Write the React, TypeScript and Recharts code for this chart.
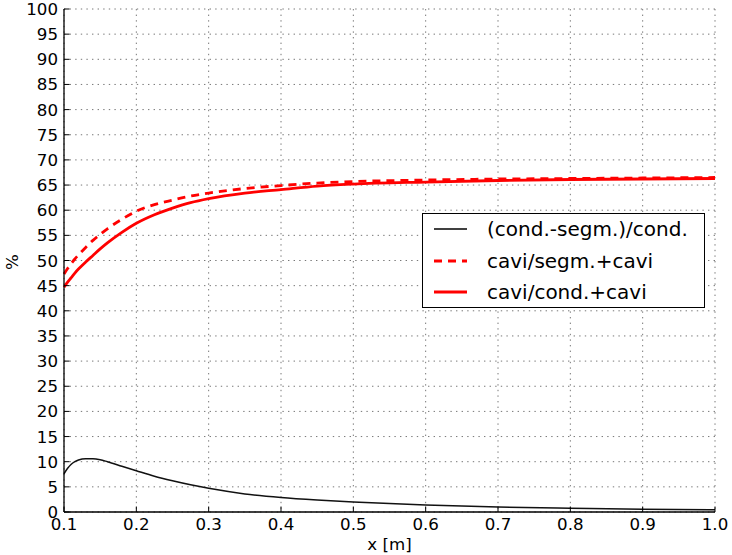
import React from 'react';
import { LineChart, Line, XAxis, YAxis, CartesianGrid, Legend } from 'recharts';

const xValues = [0.1, 0.105, 0.11, 0.115, 0.12, 0.13, 0.14, 0.15, 0.16, 0.18, 0.2, 0.225, 0.25, 0.275, 0.3, 0.35, 0.4, 0.45, 0.5, 0.6, 0.7, 0.8, 0.9, 1.0];
const condSegm = [7.6, 8.7, 9.5, 10.0, 10.35, 10.6, 10.6, 10.4, 10.0, 9.1, 8.2, 7.1, 6.2, 5.4, 4.7, 3.6, 2.9, 2.4, 2.0, 1.4, 1.0, 0.75, 0.55, 0.45];
const caviSegm = [47.3, 48.4, 49.4, 50.3, 51.1, 52.6, 54.0, 55.2, 56.3, 58.2, 59.8, 61.1, 62.0, 62.8, 63.4, 64.3, 64.9, 65.4, 65.7, 66.0, 66.2, 66.3, 66.4, 66.5];
const caviCond = [44.7, 45.7, 46.6, 47.5, 48.3, 49.7, 51.0, 52.3, 53.5, 55.6, 57.4, 59.1, 60.4, 61.5, 62.3, 63.4, 64.1, 64.8, 65.2, 65.6, 65.9, 66.1, 66.2, 66.3];
const xTicks = [0.1, 0.2, 0.3, 0.4, 0.5, 0.6, 0.7, 0.8, 0.9, 1.0];
const yTicks = [0, 5, 10, 15, 20, 25, 30, 35, 40, 45, 50, 55, 60, 65, 70, 75, 80, 85, 90, 95, 100];
const seriesNames = ['(cond.-segm.)/cond.', 'cavi/segm.+cavi', 'cavi/cond.+cavi'];

const data = xValues.map((x, i) => ({ x, a: condSegm[i], b: caviSegm[i], c: caviCond[i] }));

const FONT = 'DejaVu Sans';
const TICK_LEN = 5.5;

const LeftTick = (props: any) => {
  const { x, y, payload } = props;
  return (
    <g>
      <line x1={x} y1={y} x2={x + TICK_LEN} y2={y} stroke="#000" strokeWidth={1} />
      <text x={x - 6} y={y + 6} textAnchor="end" fontFamily={FONT} fontSize={16.67} fill="#000">{payload.value}</text>
    </g>
  );
};
const RightTick = (props: any) => {
  const { x, y } = props;
  return <line x1={x} y1={y} x2={x - TICK_LEN} y2={y} stroke="#000" strokeWidth={1} />;
};
const BottomTick = (props: any) => {
  const { x, y, payload } = props;
  return (
    <g>
      <line x1={x} y1={y} x2={x} y2={y - TICK_LEN} stroke="#000" strokeWidth={1} />
      <text x={x} y={y + 18} textAnchor="middle" fontFamily={FONT} fontSize={16.67} fill="#000">{Number(payload.value).toFixed(1)}</text>
    </g>
  );
};
const TopTick = (props: any) => {
  const { x, y } = props;
  return <line x1={x} y1={y} x2={x} y2={y + TICK_LEN} stroke="#000" strokeWidth={1} />;
};

const LegendBox = () => {
  const rows = [
    { name: seriesNames[0], color: '#000', w: 1.4, dash: undefined as string | undefined },
    { name: seriesNames[1], color: '#ff0000', w: 2.8, dash: '8 6' },
    { name: seriesNames[2], color: '#ff0000', w: 2.8, dash: undefined },
  ];
  const ys = [16, 48, 79];
  return (
    <svg width={284} height={96} style={{ display: 'block' }}>
      <rect x={0.5} y={0.5} width={282} height={94} fill="#fff" stroke="#000" strokeWidth={1} />
      {rows.map((r, i) => (
        <g key={r.name}>
          <line x1={12} x2={45} y1={ys[i]} y2={ys[i]} stroke={r.color} strokeWidth={r.w} strokeDasharray={r.dash} />
          <text x={65} y={ys[i] + 7} fontFamily={FONT} fontSize={20} fill="#000">{r.name}</text>
        </g>
      ))}
    </svg>
  );
};

export default function App() {
  return (
    <div style={{ position: 'absolute', left: 0, top: 0, width: 732, height: 555, background: '#fff' }}>
      <LineChart width={732} height={555} data={data} margin={{ top: 9, right: 17, bottom: 0, left: 0 }}>
        <CartesianGrid stroke="#777" strokeDasharray="1.4 4.2" strokeWidth={1} />
        <XAxis dataKey="x" type="number" domain={[0.1, 1.0]} ticks={xTicks} interval={0} height={43}
          axisLine={{ stroke: '#000', strokeWidth: 1.3 }} tickLine={false} tickSize={0} tickMargin={0} tick={<BottomTick />}
          label={{ value: 'x [m]', position: 'insideBottom', offset: 5, fontFamily: FONT, fontSize: 16.67, fill: '#000' }} />
        <XAxis xAxisId="top" orientation="top" dataKey="x" type="number" domain={[0.1, 1.0]} ticks={xTicks} interval={0} height={0}
          axisLine={{ stroke: '#000', strokeWidth: 1.3 }} tickLine={false} tickSize={0} tickMargin={0} tick={<TopTick />} />
        <YAxis type="number" domain={[0, 100]} ticks={yTicks} interval={0} width={64}
          axisLine={{ stroke: '#000', strokeWidth: 1.3 }} tickLine={false} tickSize={0} tickMargin={0} tick={<LeftTick />} />
        <YAxis yAxisId="right" orientation="right" type="number" domain={[0, 100]} ticks={yTicks} interval={0} width={0}
          axisLine={{ stroke: '#000', strokeWidth: 1.3 }} tickLine={false} tickSize={0} tickMargin={0} tick={<RightTick />} />
        <Line type="monotone" dataKey="a" name={seriesNames[0]} stroke="#111" strokeWidth={1.5} dot={false} isAnimationActive={false} />
        <Line type="monotone" dataKey="b" name={seriesNames[1]} stroke="#ff0000" strokeWidth={2.8} strokeDasharray="8 6" dot={false} isAnimationActive={false} />
        <Line type="monotone" dataKey="c" name={seriesNames[2]} stroke="#ff0000" strokeWidth={2.8} dot={false} isAnimationActive={false} />
        <Legend layout="vertical" align="center" verticalAlign="middle" content={<LegendBox />}
          wrapperStyle={{ position: 'absolute', left: 422, top: 213, width: 284, height: 96 }} />
        <text x={12.5} y={262} transform="rotate(-90 12.5 262)" textAnchor="middle" dominantBaseline="central" fontFamily={FONT} fontSize={16.67} fill="#000">%</text>
      </LineChart>
    </div>
  );
}
